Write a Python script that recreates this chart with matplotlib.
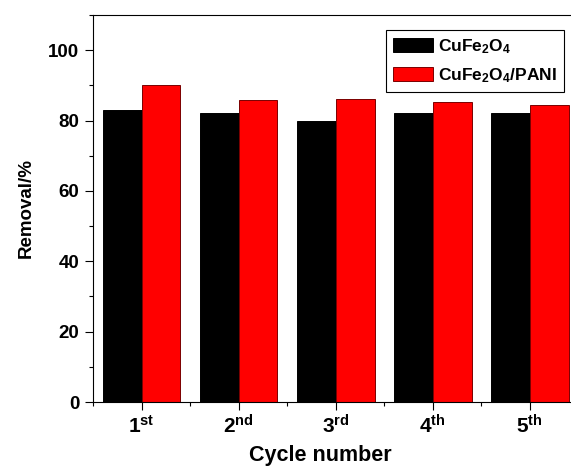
import numpy as np
import matplotlib
matplotlib.use('Agg')
import matplotlib.pyplot as plt

plt.rcParams['font.family'] = 'Liberation Sans'
plt.rcParams['font.weight'] = 'bold'
plt.rcParams['mathtext.fontset'] = 'custom'
plt.rcParams['mathtext.rm'] = 'Liberation Sans:bold'
plt.rcParams['mathtext.bf'] = 'Liberation Sans:bold'
plt.rcParams['mathtext.it'] = 'Liberation Sans:bold'

# Data
cycles = [r'$\mathbf{1^{st}}$', r'$\mathbf{2^{nd}}$', r'$\mathbf{3^{rd}}$',
          r'$\mathbf{4^{th}}$', r'$\mathbf{5^{th}}$']
cufe2o4 = [83, 82, 80, 82, 82]
cufe2o4_pani = [90, 85.7, 86, 85.3, 84.3]
series_names = [r'$\mathbf{CuFe_2O_4}$', r'$\mathbf{CuFe_2O_4/PANI}$']

fig = plt.figure(figsize=(5.71, 4.68), dpi=100)
ax = fig.add_axes([0.1629, 0.141, 0.850, 0.827])

x = np.arange(1, len(cycles) + 1)
w = 0.4
ax.bar(x - w / 2, cufe2o4, width=w, color='black', edgecolor='black', linewidth=0.7, label=series_names[0])
ax.bar(x + w / 2, cufe2o4_pani, width=w, color='#ff0000', edgecolor='#7a0000', linewidth=0.7, label=series_names[1])

ax.set_xlim(0.5, 5.5)
ax.set_ylim(0, 110)
ax.set_xticks(x)
ax.set_xticklabels(cycles, fontsize=15)
ax.set_xticks(np.arange(0.5, 5.6, 1.0), minor=True)
ax.set_yticks(np.arange(0, 101, 20))
ax.set_yticks(np.arange(10, 111, 20), minor=True)
ax.tick_params(axis='y', labelsize=13.5)
ax.tick_params(which='major', direction='out', length=6, width=0.8, pad=4)
ax.tick_params(which='minor', direction='out', length=3, width=0.8)
ax.tick_params(axis='x', which='major', pad=3)

for s in ax.spines.values():
    s.set_linewidth(0.8)

ax.set_ylabel('Removal/%', fontsize=13.5, fontweight='bold')
ax.set_xlabel('Cycle number', fontsize=15.5, fontweight='bold')
ax.yaxis.set_label_coords(-0.12, 0.5)
ax.xaxis.set_label_coords(0.468, -0.112)

leg = ax.legend(loc='upper right', bbox_to_anchor=(564 / 571, 1 - 30 / 468),
                bbox_transform=fig.transFigure, borderaxespad=0, fontsize=12.5,
                fancybox=False, edgecolor='black', framealpha=1,
                handlelength=2.3, handleheight=0.86, labelspacing=0.6,
                handletextpad=0.3, borderpad=0.4)
leg.get_frame().set_linewidth(0.8)

fig.savefig('out.png', dpi=100)
